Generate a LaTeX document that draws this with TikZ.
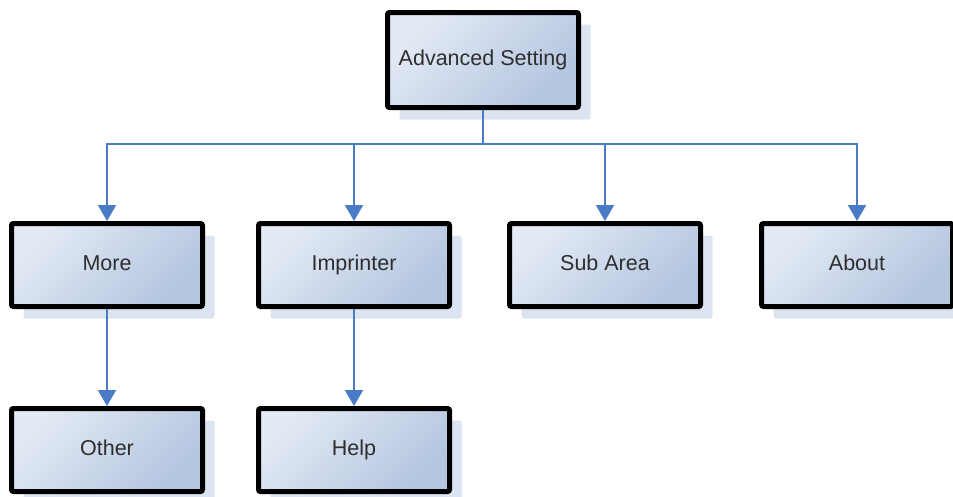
\documentclass[tikz,border=0pt]{standalone}
\usepackage{fontspec}
\setmainfont{Liberation Sans}
\usetikzlibrary{arrows.meta,shadows}
\definecolor{boxlight}{HTML}{E3EAF5}
\definecolor{boxdark}{HTML}{B3C5DF}
\definecolor{shadowcol}{HTML}{DCE4F1}
\definecolor{linkcol}{HTML}{4A7BC6}
\definecolor{txtcol}{HTML}{2E2E2E}
\tikzset{
  menubox/.style={draw=black, line width=5pt, rounded corners=2pt,
    top color=boxlight, bottom color=boxdark, shading angle=45,
    minimum width=191pt, minimum height=83pt, inner sep=0pt,
    text height=15pt, text depth=4pt,
    text=txtcol, font=\fontsize{21.5}{25}\selectfont,
    general shadow={fill=shadowcol, shadow xshift=12pt, shadow yshift=-12pt}},
  topbox/.style={menubox, minimum height=95pt},
  link/.style={draw=linkcol, line width=2pt,
    -{Triangle[width=18pt,length=16pt]}},
  plain/.style={draw=linkcol, line width=2pt}
}
\begin{document}
\begin{tikzpicture}[x=1pt,y=-1pt]
\useasboundingbox (0,0) rectangle (953,496);
\node[topbox] (adv) at (483,60) {Advanced Setting};
\node[menubox] (more) at (107,265) {More};
\node[menubox] (imp) at (354,265) {Imprinter};
\node[menubox] (sub) at (605,265) {Sub Area};
\node[menubox] (about) at (857,265) {About};
\node[menubox] (other) at (107,450) {Other};
\node[menubox] (help) at (354,450) {Help};
\coordinate (bus) at (483,144);
\draw[plain] (adv.south) -- (bus);
\draw[link] (bus) -| (more.north);
\draw[link] (bus) -| (imp.north);
\draw[link] (bus) -| (sub.north);
\draw[link] (bus) -| (about.north);
\draw[link] (more.south) -- (other.north);
\draw[link] (imp.south) -- (help.north);
\end{tikzpicture}
\end{document}
